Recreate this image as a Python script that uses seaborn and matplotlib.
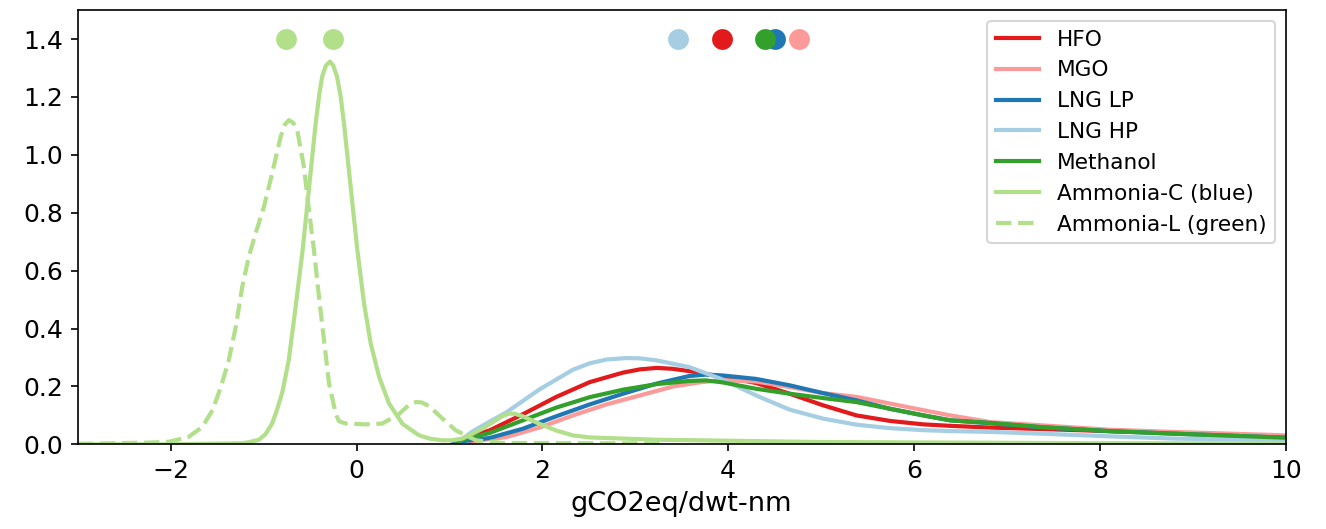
import matplotlib
matplotlib.use("Agg")
import matplotlib.pyplot as plt
import seaborn as sns
import pandas as pd

# Fuel names and their colours
fuels = ["HFO", "MGO", "LNG LP", "LNG HP", "Methanol", "Ammonia-C (blue)", "Ammonia-L (green)"]
colors = ["#e31a1c", "#fb9a99", "#1f78b4", "#a6cee3", "#33a02c", "#b2df8a", "#b2df8a"]
styles = ["-", "-", "-", "-", "-", "-", "--"]

# Density curves (gCO2eq/dwt-nm vs. density)
hfo_x = [1.07, 1.11, 1.43, 1.79, 2.15, 2.51, 2.87, 3.05, 3.23, 3.40, 3.58, 3.94, 4.30, 4.66, 5.02, 5.38, 5.74, 6.10, 6.39, 6.82, 7.36, 8.08, 8.79, 10.0]
hfo_y = [0.0, 0.016, 0.048, 0.104, 0.164, 0.215, 0.248, 0.259, 0.264, 0.261, 0.253, 0.233, 0.212, 0.175, 0.135, 0.100, 0.081, 0.069, 0.064, 0.058, 0.053, 0.046, 0.040, 0.028]

mgo_x = [1.22, 1.25, 1.61, 1.97, 2.33, 2.69, 3.05, 3.41, 3.69, 3.94, 4.30, 4.66, 5.02, 5.38, 5.74, 6.10, 6.39, 6.82, 7.36, 8.08, 8.79, 10.0]
mgo_y = [0.0, 0.011, 0.025, 0.058, 0.100, 0.138, 0.169, 0.200, 0.214, 0.222, 0.217, 0.198, 0.177, 0.164, 0.141, 0.118, 0.100, 0.077, 0.066, 0.051, 0.043, 0.031]

lnglp_x = [1.03, 1.07, 1.43, 1.79, 2.15, 2.51, 2.87, 3.23, 3.58, 3.76, 3.94, 4.30, 4.66, 5.02, 5.38, 5.74, 6.10, 6.39, 6.82, 7.36, 8.08, 8.79, 10.0]
lnglp_y = [0.0, 0.008, 0.022, 0.054, 0.097, 0.138, 0.175, 0.210, 0.236, 0.241, 0.238, 0.226, 0.204, 0.177, 0.152, 0.123, 0.100, 0.083, 0.073, 0.059, 0.046, 0.037, 0.023]

lnghp_x = [1.07, 1.11, 1.25, 1.43, 1.61, 1.97, 2.33, 2.51, 2.69, 2.90, 3.05, 3.23, 3.58, 3.94, 4.30, 4.66, 5.02, 5.38, 5.74, 6.10, 6.39, 6.82, 7.36, 8.08, 8.79, 10.0]
lnghp_y = [0.0, 0.012, 0.045, 0.078, 0.110, 0.190, 0.258, 0.280, 0.293, 0.298, 0.297, 0.290, 0.267, 0.224, 0.169, 0.120, 0.089, 0.068, 0.056, 0.049, 0.046, 0.043, 0.037, 0.028, 0.020, 0.014]

meth_x = [1.07, 1.11, 1.43, 1.79, 2.15, 2.51, 2.87, 3.23, 3.58, 3.76, 3.94, 4.30, 4.66, 5.02, 5.38, 5.74, 6.10, 6.39, 6.82, 7.36, 8.08, 8.79, 10.0]
meth_y = [0.0, 0.014, 0.039, 0.083, 0.127, 0.163, 0.189, 0.208, 0.219, 0.221, 0.214, 0.192, 0.175, 0.160, 0.146, 0.123, 0.100, 0.083, 0.074, 0.060, 0.046, 0.037, 0.023]

nh3c_x = [-3.0, -2.02, -1.23, -1.15, -1.05, -0.98, -0.91, -0.86, -0.80, -0.73, -0.66, -0.58, -0.51, -0.44, -0.40, -0.37, -0.33, -0.286, -0.25, -0.21, -0.17, -0.135, -0.063, 0.009, 0.081, 0.153, 0.243, 0.35, 0.494, 0.674, 0.80, 0.925, 1.03, 1.14, 1.356, 1.572, 1.64, 1.70, 1.788, 1.968, 2.148, 2.328, 2.507, 2.867, 3.226, 3.69, 5.0, 8.0, 10.0]
nh3c_y = [0.0, 0.0, 0.004, 0.008, 0.016, 0.035, 0.071, 0.115, 0.178, 0.29, 0.463, 0.671, 0.889, 1.108, 1.21, 1.27, 1.308, 1.322, 1.308, 1.27, 1.20, 1.108, 0.889, 0.671, 0.486, 0.348, 0.233, 0.141, 0.071, 0.031, 0.019, 0.014, 0.014, 0.020, 0.054, 0.098, 0.106, 0.106, 0.097, 0.071, 0.048, 0.031, 0.024, 0.020, 0.016, 0.014, 0.008, 0.004, 0.003]

nh3l_x = [-3.0, -2.24, -2.02, -1.81, -1.66, -1.55, -1.46, -1.375, -1.30, -1.23, -1.16, -1.087, -0.997, -0.908, -0.817, -0.77, -0.728, -0.68, -0.638, -0.566, -0.512, -0.458, -0.404, -0.35, -0.296, -0.224, -0.189, -0.117, 0.099, 0.278, 0.458, 0.56, 0.638, 0.70, 0.782, 0.925, 1.07, 1.285, 1.57, 3.3]
nh3l_y = [0.002, 0.006, 0.009, 0.025, 0.060, 0.118, 0.198, 0.29, 0.405, 0.544, 0.647, 0.728, 0.82, 0.936, 1.062, 1.105, 1.12, 1.11, 1.085, 0.958, 0.809, 0.671, 0.509, 0.36, 0.21, 0.106, 0.080, 0.072, 0.069, 0.072, 0.105, 0.135, 0.146, 0.145, 0.132, 0.089, 0.048, 0.014, 0.005, 0.003]

# Central value of each fuel, marked along the top
centre_x = [3.93, 4.76, 4.50, 3.46, 4.40, -0.25, -0.757]
centre_y = [1.4, 1.4, 1.4, 1.4, 1.4, 1.4, 1.4]

curves_x = [hfo_x, mgo_x, lnglp_x, lnghp_x, meth_x, nh3c_x, nh3l_x]
curves_y = [hfo_y, mgo_y, lnglp_y, lnghp_y, meth_y, nh3c_y, nh3l_y]

fig = plt.figure(figsize=(1327 / 150, 529 / 150), dpi=150)
ax = fig.add_axes([0.0586, 0.160, 0.9103, 0.821])

for name, xs, ys, c, ls in zip(fuels, curves_x, curves_y, colors, styles):
    df = pd.DataFrame({"x": xs, "density": ys})
    sns.lineplot(data=df, x="x", y="density", ax=ax, color=c, linestyle=ls,
                 linewidth=2.0, estimator=None, sort=False, label=name)

for cx, cy, c in zip(centre_x, centre_y, colors):
    sns.scatterplot(x=[cx], y=[cy], ax=ax, color=c, s=100, linewidth=0, zorder=3)

ax.set_xlim(-3, 10)
ax.set_ylim(0, 1.5)
ax.set_yticks([0.0, 0.2, 0.4, 0.6, 0.8, 1.0, 1.2, 1.4])
ax.set_xlabel("gCO2eq/dwt-nm", fontsize=13)
ax.set_ylabel("")
ax.tick_params(labelsize=12)
ax.legend(loc="upper right", fontsize=10.4)

fig.savefig("out.png", dpi=150)
